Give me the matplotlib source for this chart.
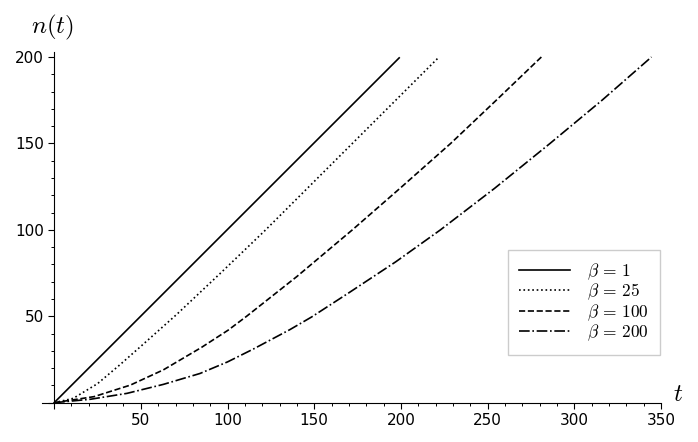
import matplotlib
matplotlib.use('Agg')
from matplotlib import pyplot as plt
from matplotlib.ticker import MultipleLocator, FuncFormatter

plt.rcParams['mathtext.fontset'] = 'cm'

# curves, (t, n) pairs
t_b1 = [0, 199]
n_b1 = [0, 199.5]

t_b25 = [0, 11, 25, 38, 51, 70.6, 96, 122, 172.5, 221.6]
n_b25 = [0, 2.5, 11, 22, 33.5, 51, 75, 100, 150.5, 199.6]

t_b100 = [0, 23, 44, 63, 85, 100.4, 111, 140, 172, 200, 228.7, 255, 281]
n_b100 = [0, 3.5, 10.2, 19, 32, 42, 50, 73, 100, 124.5, 150, 175, 200]

t_b200 = [0, 21, 42, 63, 84.1, 100, 114.8, 136, 148.5, 170, 197, 222.8, 254,
          286, 316, 344.5]
n_b200 = [0, 2, 5.4, 10.6, 16.9, 23.6, 31.0, 42.3, 49.6, 63.6, 81.5, 100, 124,
          150, 175, 200]

labels = [r'$\beta\,=\,1$', r'$\beta\,=\,25$', r'$\beta\,=\,100$',
          r'$\beta\,=\,200$']
styles = ['-', ':', '--', '-.']

W, H = 698, 442
fig = plt.figure(figsize=(W / 100, H / 100), dpi=100)
ax = fig.add_axes([42 / W, (H - 402.7) / H, 619 / W, 350.7 / H])

series = [(t_b1, n_b1), (t_b25, n_b25), (t_b100, n_b100), (t_b200, n_b200)]
for (tt, nn), lab, ls in zip(series, labels, styles):
    ax.plot(tt, nn, color='black', ls=ls, lw=1.2, label=lab, clip_on=False)

ax.set_xlim(-7, 350)
ax.set_ylim(0, 202.9)

ax.spines['left'].set_position(('data', 0))
ax.spines['bottom'].set_position(('data', 0))
ax.spines['top'].set_visible(False)
ax.spines['right'].set_visible(False)
for s in ('left', 'bottom'):
    ax.spines[s].set_linewidth(0.8)

ax.xaxis.set_major_locator(MultipleLocator(50))
ax.xaxis.set_minor_locator(MultipleLocator(10))
ax.yaxis.set_major_locator(MultipleLocator(50))
ax.yaxis.set_minor_locator(MultipleLocator(10))
hide_zero = FuncFormatter(lambda v, p: '' if abs(v) < 1e-9 else '%d' % v)
ax.xaxis.set_major_formatter(hide_zero)
ax.yaxis.set_major_formatter(hide_zero)
ax.tick_params(which='major', length=4.5, width=0.8, direction='out',
               labelsize=11, pad=3)
ax.tick_params(which='minor', length=2.2, width=0.7, direction='out')

fig.text(31 / W, 1 - 33 / H, r'$n(t)$', fontsize=18, ha='left', va='baseline')
fig.text(673 / W, 1 - 401 / H, r'$t$', fontsize=18, ha='left', va='baseline')

leg = ax.legend(loc='upper left', bbox_to_anchor=(508 / W, 1 - 250 / H),
                bbox_transform=fig.transFigure, borderaxespad=0,
                fontsize=12.5, handlelength=2.9, handletextpad=1.0,
                labelspacing=0.0, borderpad=0.65, fancybox=False,
                framealpha=1)
leg.get_frame().set_edgecolor('#cccccc')
leg.get_frame().set_linewidth(1.0)

fig.savefig('out.png', dpi=100)
plt.close(fig)
